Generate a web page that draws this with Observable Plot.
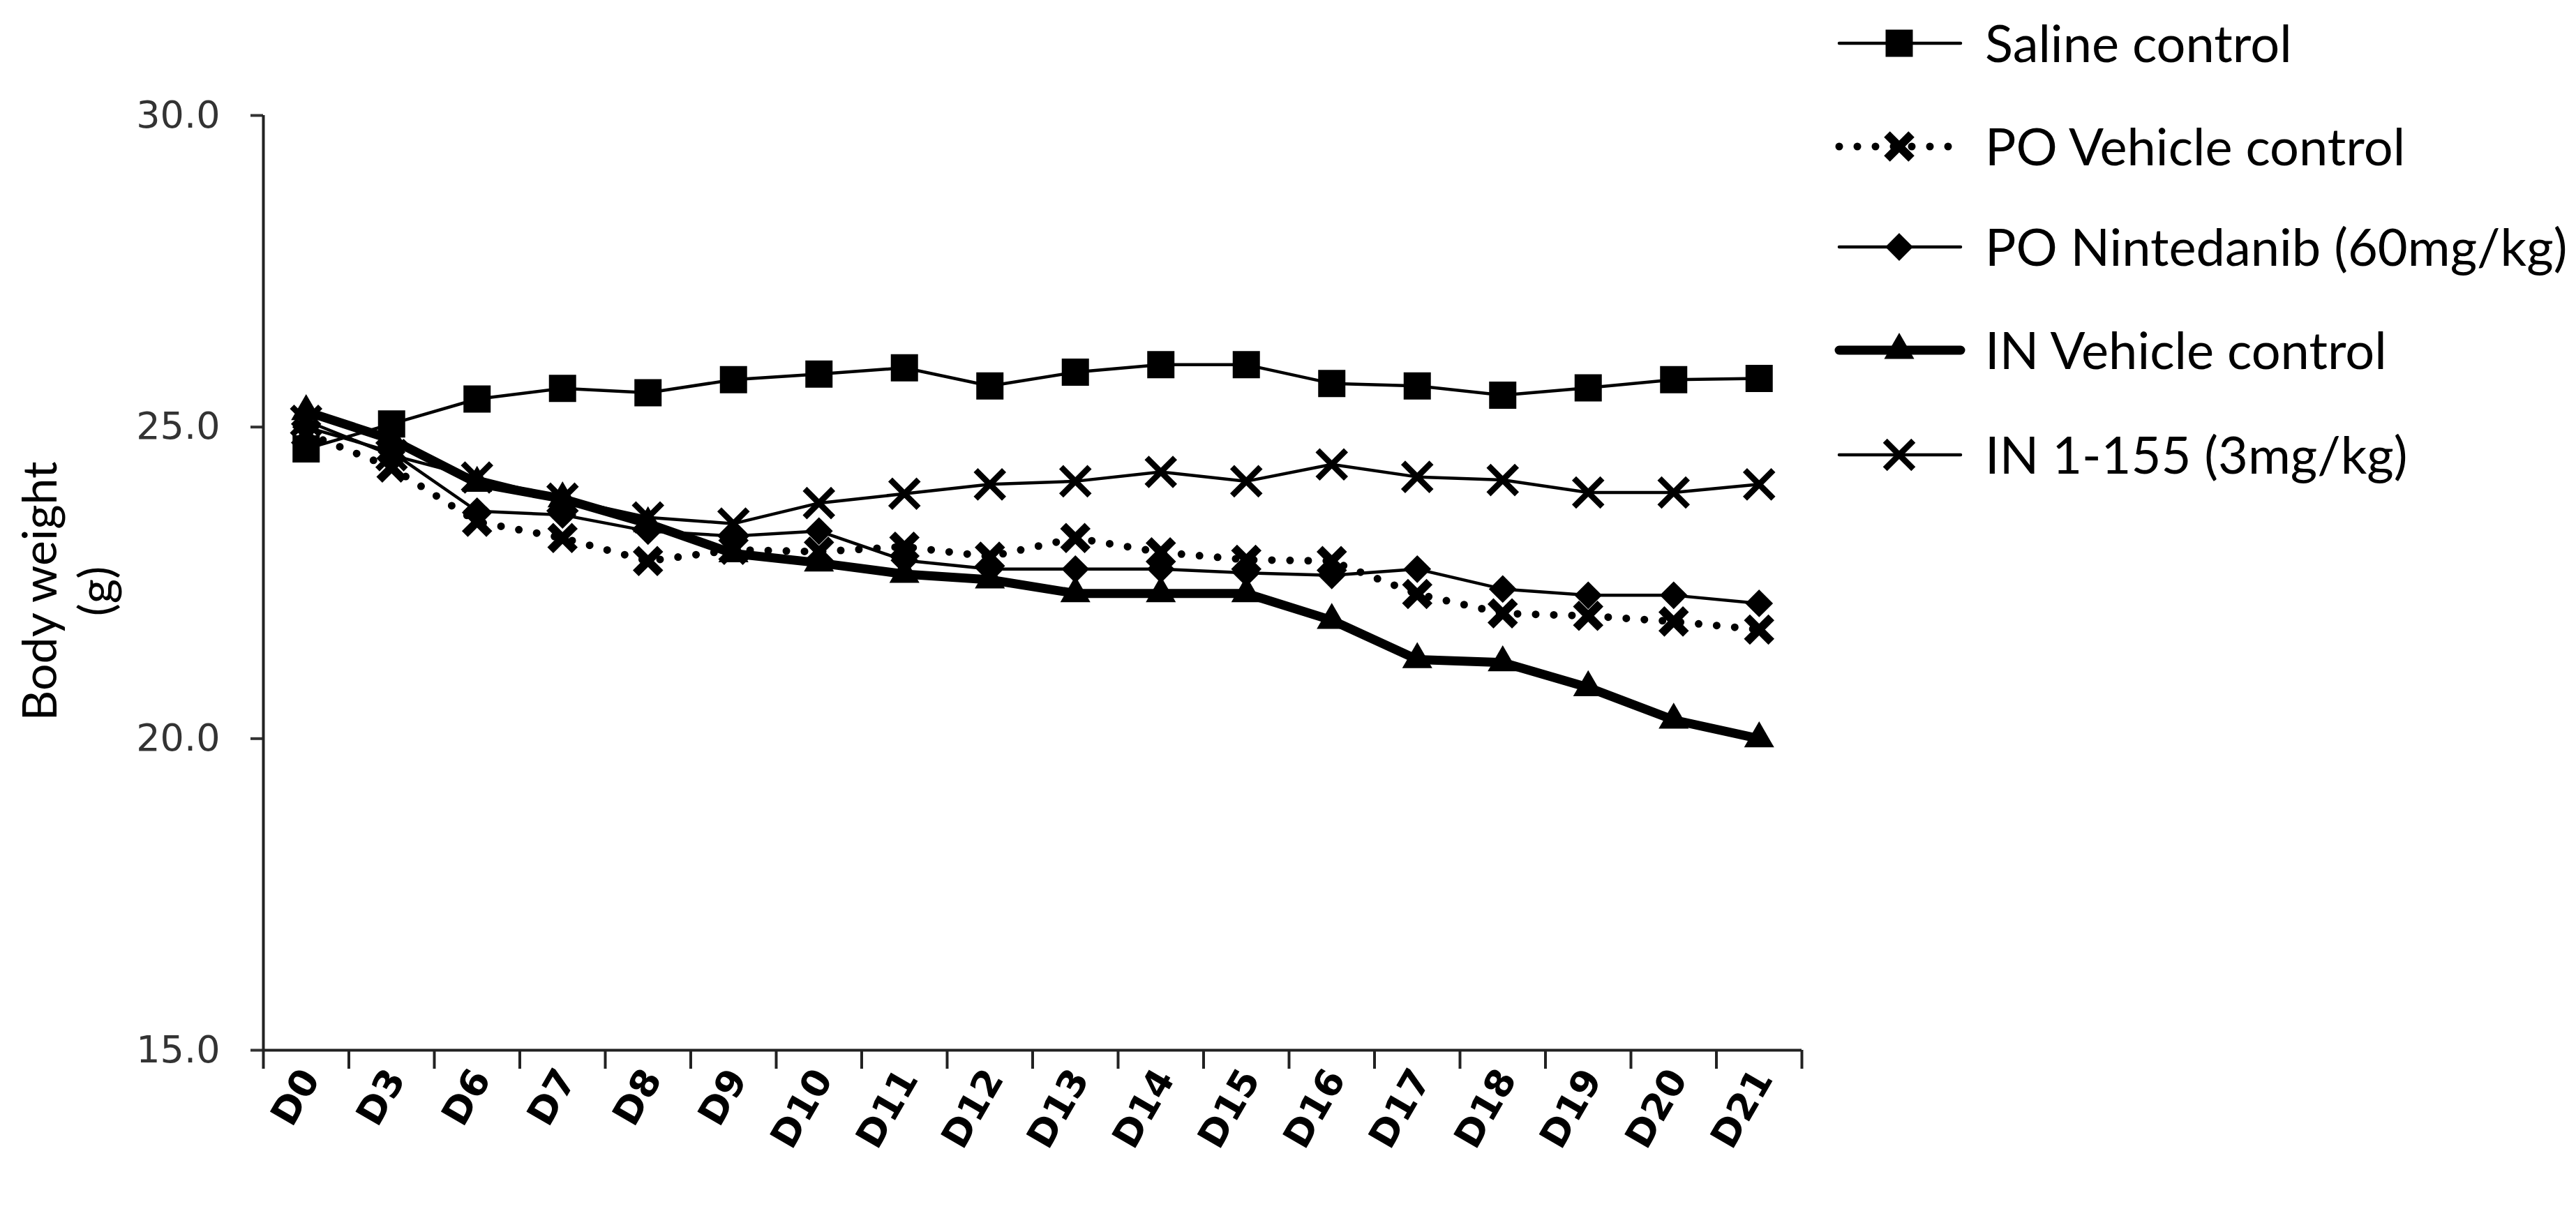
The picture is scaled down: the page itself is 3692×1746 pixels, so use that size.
<!DOCTYPE html>
<html><head><meta charset="utf-8">
<script src="https://cdn.jsdelivr.net/npm/d3@7"></script>
<script src="https://cdn.jsdelivr.net/npm/@observablehq/plot@0.6"></script>
<style>
html,body{margin:0;padding:0;background:#fff;}
#wrap{position:relative;width:3692px;height:1746px;overflow:hidden;}
#legend{position:absolute;left:2600px;top:0;}
</style></head><body><div id="wrap"></div>
<script>
// ---- data ----
const days = ["D0","D3","D6","D7","D8","D9","D10","D11","D12","D13","D14","D15","D16","D17","D18","D19","D20","D21"];
const seriesNames = ["Saline control","PO Vehicle control","PO Nintedanib (60mg/kg)","IN Vehicle control","IN 1-155 (3mg/kg)"];
const saline     = [24.65,25.05,25.45,25.62,25.55,25.76,25.85,25.95,25.66,25.88,26.00,26.00,25.70,25.66,25.51,25.63,25.76,25.78];
const poVehicle  = [24.90,24.35,23.48,23.22,22.85,23.03,23.00,23.08,22.92,23.22,22.99,22.87,22.85,22.32,22.01,21.97,21.88,21.75];
const nintedanib = [25.00,24.60,23.65,23.59,23.33,23.25,23.33,22.86,22.72,22.72,22.72,22.66,22.62,22.72,22.40,22.30,22.30,22.17];
const inVehicle  = [25.25,24.80,24.10,23.85,23.45,22.97,22.82,22.64,22.55,22.33,22.33,22.33,21.90,21.27,21.22,20.82,20.30,20.00];
const in1155     = [25.10,24.55,24.19,23.85,23.55,23.45,23.78,23.93,24.08,24.13,24.28,24.13,24.40,24.20,24.15,23.95,23.95,24.08];
const yTicks = [15, 20, 25, 30];
const yLabel = "Body weight\n(g)";

const seriesValues = [saline, poVehicle, nintedanib, inVehicle, in1155];
const rows = [];
seriesValues.forEach((vals, k) => vals.forEach((v, i) => rows.push({i, day: days[i], series: seriesNames[k], value: v})));
const of = (name) => rows.filter(d => d.series === name);

// ---- styles ----
const sty = {
  "Saline control":          {sw: 4.5, dash: null, symbol: "square", r: 22, fill: "black", stroke: "none", msw: 0},
  "PO Vehicle control":      {sw: 11, dash: "0,26", symbol: "times", r: 16, fill: "none", stroke: "black", msw: 12},
  "PO Nintedanib (60mg/kg)": {sw: 4.5, dash: null, symbol: "diamond2", r: 16, fill: "black", stroke: "black", msw: 3},
  "IN Vehicle control":      {sw: 13, dash: null, symbol: "triangle", r: 16, fill: "black", stroke: "none", msw: 0},
  "IN 1-155 (3mg/kg)":       {sw: 4.5, dash: null, symbol: "times", r: 18.5, fill: "none", stroke: "black", msw: 8.5}
};

const lineMarks = seriesNames.map(name => {
  const s = sty[name];
  return Plot.line(of(name), {x: "i", y: "value", stroke: "black", strokeWidth: s.sw,
    strokeDasharray: s.dash ?? undefined, strokeLinecap: "round", strokeLinejoin: "round"});
});
const dotMarks = seriesNames.map(name => {
  const s = sty[name];
  return Plot.dot(of(name), {x: "i", y: "value", symbol: s.symbol, r: s.r, fill: s.fill,
    stroke: s.stroke, strokeWidth: s.msw});
});

const boundaries = d3.range(days.length + 1).map(i => i - 0.5);
const centers = d3.range(days.length);

const Y_TICK_FONT = 54, X_TICK_FONT = 54;

const chart = Plot.plot({
  width: 2620, height: 1746,
  marginLeft: 377, marginRight: 38, marginTop: 165, marginBottom: 241,
  style: {background: "white", color: "black", overflow: "visible"},
  x: {type: "linear", domain: [-0.5, days.length - 0.5]},
  y: {domain: [yTicks[0], yTicks[yTicks.length - 1]]},
  marks: [
    Plot.axisY({ticks: yTicks, tickSize: 18, tickFormat: () => "", stroke: "#333", strokeWidth: 4, label: null}),
    Plot.axisX({ticks: boundaries, tickSize: 27, tickFormat: () => "", stroke: "#222", strokeWidth: 4, label: null}),
    Plot.ruleX([boundaries[0]], {stroke: "#222", strokeWidth: 4}),
    Plot.ruleY([yTicks[0]], {stroke: "#222", strokeWidth: 4}),
    // y tick labels
    Plot.text(yTicks, {x: boundaries[0], y: d => d, text: d => d.toFixed(1), textAnchor: "end", dx: -62,
      fontSize: Y_TICK_FONT, fontFamily: "DejaVu Sans", fill: "#333", ariaLabel: "ytick-labels"}),
    // x tick labels
    Plot.text(centers, {x: d => d, y: yTicks[0], text: d => days[d], rotate: -60, textAnchor: "end",
      dy: 32, dx: 6, fontSize: X_TICK_FONT, fontFamily: "DejaVu Sans", fontWeight: "bold", fill: "black",
      ariaLabel: "xtick-labels"}),
    Plot.text([yLabel], {frameAnchor: "left", textAnchor: "middle", lineAnchor: "middle", dx: -282, dy: 12,
      rotate: -90, text: d => d, fontSize: 68, fontFamily: "Lato", lineHeight: 1.2, fill: "black", ariaLabel: "ytitle"}),
    ...lineMarks,
    ...dotMarks
  ]
});
// enforce font sizes directly on text nodes
d3.select(chart).selectAll("g[aria-label='ytick-labels'] text").attr("font-size", Y_TICK_FONT).attr("font-family", "DejaVu Sans");
d3.select(chart).selectAll("g[aria-label='xtick-labels'] text").attr("font-size", X_TICK_FONT).attr("font-family", "DejaVu Sans").attr("font-weight", "bold");
document.getElementById("wrap").appendChild(chart);

// ---- legend ----
const legendRowsY = [62, 210, 354, 502, 652];
const lg = d3.create("svg").attr("id", "legend").attr("width", 1092).attr("height", 750);
const symMap = {square: d3.symbolSquare, times: d3.symbolTimes, diamond2: d3.symbolDiamond2, triangle: d3.symbolTriangle};
seriesNames.forEach((name, k) => {
  const s = sty[name];
  const g = lg.append("g").attr("transform", `translate(0,${legendRowsY[k]})`);
  g.append("line").attr("x1", 36).attr("x2", 210).attr("y1", 0).attr("y2", 0)
    .attr("stroke", "black").attr("stroke-width", s.sw).attr("stroke-linecap", "round")
    .attr("stroke-dasharray", s.dash);
  g.append("path").attr("transform", "translate(122,0)")
    .attr("d", d3.symbol(symMap[s.symbol], Math.PI * s.r * s.r)())
    .attr("fill", s.fill).attr("stroke", s.stroke).attr("stroke-width", s.msw);
  g.append("text").attr("x", 245).attr("y", 0).attr("dy", "0.36em")
    .attr("font-family", "Lato").attr("font-size", 74).attr("fill", "black").text(name);
});
document.getElementById("wrap").appendChild(lg.node());
</script></body></html>
